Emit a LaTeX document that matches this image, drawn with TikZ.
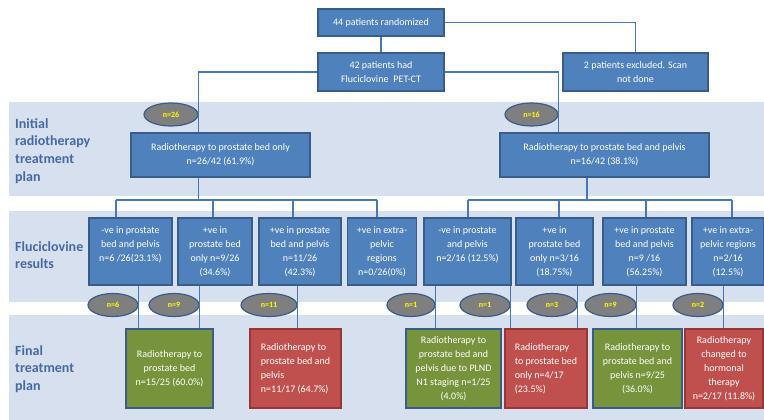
\documentclass[tikz,border=0pt]{standalone}
\usepackage{fontspec}
\setmainfont{Carlito}
\usetikzlibrary{shapes.geometric}
\definecolor{band}{RGB}{214,224,238}
\definecolor{bfill}{RGB}{79,129,189}
\definecolor{bdraw}{RGB}{56,93,138}
\definecolor{gfill}{RGB}{119,147,60}
\definecolor{rfill}{RGB}{192,80,77}
\definecolor{rdraw}{RGB}{150,55,52}
\definecolor{efill}{RGB}{127,127,127}
\definecolor{lab}{RGB}{70,105,165}
\definecolor{wirec}{RGB}{70,120,185}
\definecolor{ntext}{RGB}{255,255,0}
\begin{document}
\begin{tikzpicture}[x=1pt,y=-1pt,
 box/.style={rectangle, draw=bdraw, line width=1.2pt, text=white, align=center, inner sep=2pt, font=\fontsize{10}{14}\selectfont},
 bluebox/.style={box, fill=bfill},
 greenbox/.style={box, fill=gfill},
 redbox/.style={box, fill=rfill, draw=rdraw},
 ell/.style={ellipse, fill=efill, draw=bdraw, line width=1.2pt, inner sep=0pt, text=ntext, font=\fontsize{8}{9}\selectfont\bfseries},
 wire/.style={draw=wirec, line width=1.6pt},
 lbl/.style={anchor=west, text=lab, align=left, inner sep=0pt, font=\fontsize{14}{17.7}\selectfont\bfseries},
]
\useasboundingbox (0,0) rectangle (764,420);
\fill[white] (0,0) rectangle (764,420);
\fill[band] (9,102) rectangle (764,196);
\fill[band] (9,211) rectangle (764,302);
\fill[band] (9,315) rectangle (764,420);

% row labels
\node[lbl] (l1) at (15,151) {Initial\\radiotherapy\\treatment\\plan};
\node[lbl] (l2) at (15,255) {Fluciclovine\\results};
\node[lbl] (l3) at (15,369) {Final\\treatment\\plan};

% top
\node[bluebox, minimum width=126pt, minimum height=27pt] (top) at (381,22.5) {44 patients randomized};
\node[bluebox, minimum width=126pt, minimum height=38pt] (f42) at (381,72) {42 patients had\\Fluciclovine\enspace PET-CT};
\node[bluebox, minimum width=145pt, minimum height=38pt] (excl) at (635.5,72) {2 patients excluded. Scan\\not done};

% initial plan
\node[bluebox, minimum width=179pt, minimum height=44pt] (ri1) at (220.5,155) {Radiotherapy to prostate bed only\\n=26/42 (61.9\%)};
\node[bluebox, minimum width=209pt, minimum height=44pt] (ri2) at (604.5,155) {Radiotherapy to prostate bed and pelvis\\n=16/42 (38.1\%)};
\node[ell, minimum width=54pt, minimum height=23pt] (e26) at (171,114.5) {n=26};
\node[ell, minimum width=53pt, minimum height=23pt] (e16) at (531.5,114.5) {n=16};

% fluciclovine results
\node[bluebox, minimum width=83pt, minimum height=67pt] (f1) at (130.5,251.5) {-ve in prostate\\bed and pelvis\\n=6 /26(23.1\%)\\~};
\node[bluebox, minimum width=74pt, minimum height=67pt] (f2) at (215,251.5) {+ve in\\prostate bed\\only n=9/26\\(34.6\%)};
\node[bluebox, minimum width=82pt, minimum height=67pt] (f3) at (300,251.5) {+ve in prostate\\bed and pelvis\\n=11/26\\(42.3\%)};
\node[bluebox, minimum width=69pt, minimum height=67pt] (f4) at (382,251.5) {+ve in extra-\\pelvic\\regions\\n=0/26(0\%)};
\node[bluebox, minimum width=87pt, minimum height=67pt] (f5) at (467.5,251.5) {-ve in prostate\\and pelvis\\n=2/16 (12.5\%)\\~};
\node[bluebox, minimum width=77pt, minimum height=67pt] (f6) at (554.5,251.5) {+ve in\\prostate bed\\only n=3/16\\(18.75\%)};
\node[bluebox, minimum width=83pt, minimum height=67pt] (f7) at (644.5,251.5) {+ve in prostate\\bed and pelvis\\n=9 /16\\(56.25\%)};
\node[bluebox, minimum width=72pt, minimum height=67pt] (f8) at (728,251.5) {+ve in extra-\\pelvic regions\\n=2/16\\(12.5\%)};

% count ellipses
\node[ell, minimum width=50pt, minimum height=23pt] (e6) at (113,305) {n=6};
\node[ell, minimum width=50pt, minimum height=23pt] (e9) at (174,305) {n=9};
\node[ell, minimum width=56pt, minimum height=23pt] (e11) at (269,305) {n=11};
\node[ell, minimum width=48pt, minimum height=23pt] (e1a) at (411,305) {n=1};
\node[ell, minimum width=50pt, minimum height=23pt] (e1b) at (485,305) {n=1};
\node[ell, minimum width=50pt, minimum height=23pt] (e3) at (552,305) {n=3};
\node[ell, minimum width=51pt, minimum height=23pt] (e9b) at (610.5,305) {n=9};
\node[ell, minimum width=50pt, minimum height=23pt] (e2) at (698,305) {n=2};

% final plan
\node[greenbox, minimum width=87pt, minimum height=79pt] (g1) at (169.5,368.5) {Radiotherapy to\\prostate bed\\n=15/25 (60.0\%)};
\node[redbox, align=left, minimum width=91pt, minimum height=79pt] (r1) at (295.5,368.5) {Radiotherapy to\\prostate bed and\\pelvis\\n=11/17 (64.7\%)};
\node[greenbox, minimum width=95pt, minimum height=79pt] (g2) at (453.5,368.5) {Radiotherapy to\\prostate bed and\\pelvis due to PLND\\N1 staging n=1/25\\(4.0\%)};
\node[redbox, align=left, minimum width=82pt, minimum height=79pt] (r2) at (546,368.5) {Radiotherapy\\to prostate bed\\only n=4/17\\(23.5\%)};
\node[greenbox, minimum width=89pt, minimum height=79pt] (g3) at (637.5,368.5) {Radiotherapy to\\prostate bed and\\pelvis n=9/25\\(36.0\%)};
\node[redbox, minimum width=78pt, minimum height=79pt] (r3) at (724,368.5) {Radiotherapy\\changed to\\hormonal\\therapy\\n=2/17 (11.8\%)};

% bus coordinates
\coordinate (d1) at (116,200);
\coordinate (d2) at (213,200);
\coordinate (d3) at (293,200);
\coordinate (d4) at (377,200);
\coordinate (d5) at (468,200);
\coordinate (d6) at (559,200);
\coordinate (d7) at (646,200);
\coordinate (d8) at (732,200);
\coordinate (u2) at (587,200);

% connectors
\draw[wire] (top.east) -| (excl.north);
\draw[wire] (top.south) -- (f42.north);
\draw[wire] (f42.west) -| (ri1.north -| e26.east);
\draw[wire] (f42.east) -| (ri2.north -| e16.east);
\draw[wire] (ri1.south -| e26.east) -- (e26.east |- d1);
\draw[wire] (ri2.south -| u2) -- (u2);
\draw[wire] (d1) -- (d4);
\draw[wire] (d5) -- (d8);
\draw[wire] (d1) -- (d1 |- f1.north);
\draw[wire] (d2) -- (d2 |- f2.north);
\draw[wire] (d3) -- (d3 |- f3.north);
\draw[wire] (d4) -- (d4 |- f4.north);
\draw[wire] (d5) -- (d5 |- f5.north);
\draw[wire] (d6) -- (d6 |- f6.north);
\draw[wire] (d7) -- (d7 |- f7.north);
\draw[wire] (d8) -- (d8 |- f8.north);
\draw[wire] (f1.south -| e6.east) -- (g1.north -| e6.east);
\draw[wire] (f2.south -| e9.east) -- (g1.north -| e9.east);
\draw[wire] (f3.south -| e11.east) -- (r1.north -| e11.east);
\draw[wire] (f5.south -| e1a.east) -- (g2.north -| e1a.east);
\draw[wire] (f5.south -| e1b.east) -- (r2.north -| e1b.east);
\draw[wire] (f6.south -| e3.east) -- (r2.north -| e3.east);
\draw[wire] (f7.south -| e9b.east) -- (g3.north -| e9b.east);
\draw[wire] (f8.south -| e2.east) -- (r3.north -| e2.east);
\end{tikzpicture}
\end{document}
